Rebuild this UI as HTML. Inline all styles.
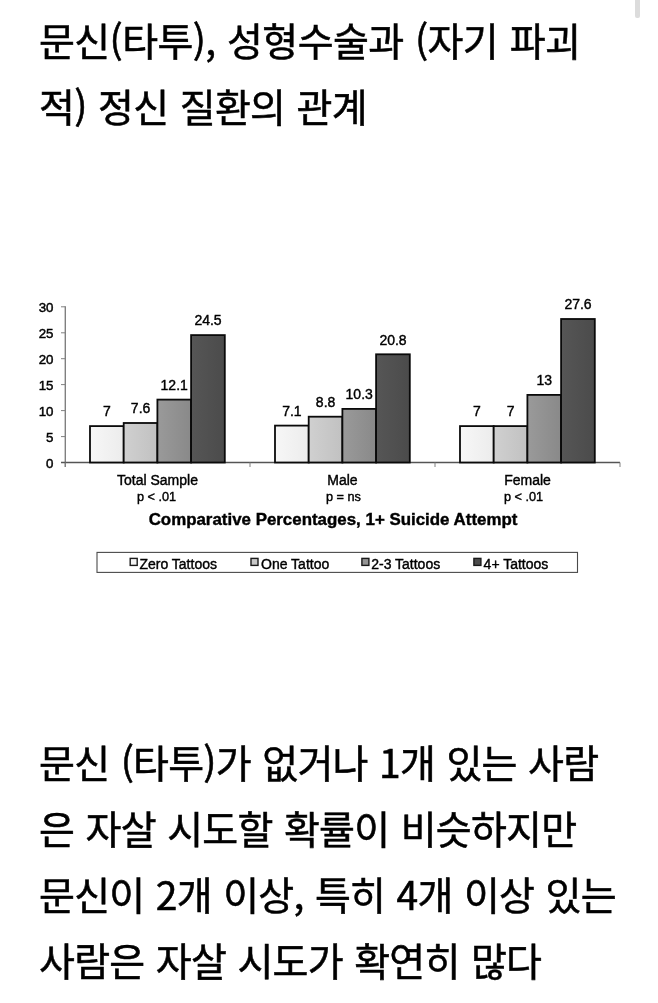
<!DOCTYPE html>
<html lang="ko">
<head>
<meta charset="utf-8">
<title>문신(타투), 성형수술과 (자기 파괴적) 정신 질환의 관계</title>
<style>
html,body{margin:0;padding:0;background:#fff;}
body{width:658px;height:1003px;position:relative;overflow:hidden;
  font-family:"Noto Sans CJK KR","Liberation Sans",sans-serif;color:#000;}
.ln{position:absolute;left:39px;white-space:nowrap;font-size:39px;line-height:50px;height:50px;font-weight:400;-webkit-text-stroke:0.55px #000;letter-spacing:-0.6px;word-spacing:1.2px;}
.sb{position:absolute;left:635px;top:0;width:5px;height:18px;background:#dcdcdc;border-radius:0 0 2px 2px;}
#chart{position:absolute;left:0;top:0;}
.bd{letter-spacing:-0.75px;}
</style>
</head>
<body>
<div class="sb"></div>
<div class="ln" id="t1" style="top:14px">문신(타투), 성형수술과 (자기 파괴</div>
<div class="ln" id="t2" style="top:80px;left:39px;letter-spacing:-0.72px">적) 정신 질환의 관계</div>

<svg id="chart" width="658" height="1003" viewBox="0 0 658 1003" font-family="'Liberation Sans', sans-serif" fill="#000" stroke="#000" stroke-width="0">
<defs>
<linearGradient id="g0" x1="0" y1="0" x2="1" y2="0"><stop offset="0" stop-color="#f7f7f7"/><stop offset="1" stop-color="#ececec"/></linearGradient>
<linearGradient id="g1" x1="0" y1="0" x2="1" y2="0"><stop offset="0" stop-color="#d0d0d0"/><stop offset="1" stop-color="#c1c1c1"/></linearGradient>
<linearGradient id="g2" x1="0" y1="0" x2="1" y2="0"><stop offset="0" stop-color="#9a9a9a"/><stop offset="1" stop-color="#898989"/></linearGradient>
<linearGradient id="g3" x1="0" y1="0" x2="1" y2="0"><stop offset="0" stop-color="#565656"/><stop offset="1" stop-color="#4b4b4b"/></linearGradient>
</defs>
<g stroke="#808080" stroke-width="1.4" fill="none">
<path d="M65.3 306.3V467"/>
<path d="M61 462.5H65.3" stroke-width="1"/>
<path d="M61 436.6H65.3" stroke-width="1"/>
<path d="M61 410.6H65.3" stroke-width="1"/>
<path d="M61 384.6H65.3" stroke-width="1"/>
<path d="M61 358.7H65.3" stroke-width="1"/>
<path d="M61 332.8H65.3" stroke-width="1"/>
<path d="M61 306.8H65.3" stroke-width="1"/>
<path d="M61 462.5H620" stroke="#555"/>
<path d="M65.3 462.5v4.5" stroke-width="1"/>
<path d="M250 462.5v4.5" stroke-width="1"/>
<path d="M435 462.5v4.5" stroke-width="1"/>
<path d="M620 462.5v4.5" stroke-width="1"/>
</g>
<g font-size="13.3" text-anchor="end" stroke-width="0.45">
<text x="53.5" y="467.7">0</text>
<text x="53.5" y="441.7">5</text>
<text x="53.5" y="415.8">10</text>
<text x="53.5" y="389.8">15</text>
<text x="53.5" y="363.9">20</text>
<text x="53.5" y="337.9">25</text>
<text x="53.5" y="312.0">30</text>
</g>
<g stroke="#0a0a0a" stroke-width="1.8">
<rect x="90.0" y="426.1" width="33.7" height="36.4" fill="url(#g0)"/>
<rect x="123.7" y="423.0" width="33.7" height="39.5" fill="url(#g1)"/>
<rect x="157.4" y="399.6" width="33.7" height="62.9" fill="url(#g2)"/>
<rect x="191.1" y="335.1" width="33.7" height="127.4" fill="url(#g3)"/>
<rect x="275.0" y="425.6" width="33.7" height="36.9" fill="url(#g0)"/>
<rect x="308.7" y="416.7" width="33.7" height="45.8" fill="url(#g1)"/>
<rect x="342.4" y="408.9" width="33.7" height="53.6" fill="url(#g2)"/>
<rect x="376.1" y="354.3" width="33.7" height="108.2" fill="url(#g3)"/>
<rect x="460.0" y="426.1" width="33.7" height="36.4" fill="url(#g0)"/>
<rect x="493.7" y="426.1" width="33.7" height="36.4" fill="url(#g1)"/>
<rect x="527.4" y="394.9" width="33.7" height="67.6" fill="url(#g2)"/>
<rect x="561.1" y="319.0" width="33.7" height="143.5" fill="url(#g3)"/>
</g>
<g font-size="14" text-anchor="middle" stroke-width="0.4">
<text x="106.8" y="416.3">7</text>
<text x="140.6" y="413.2">7.6</text>
<text x="174.2" y="389.8">12.1</text>
<text x="208.0" y="325.3">24.5</text>
<text x="291.9" y="415.8">7.1</text>
<text x="325.6" y="406.9">8.8</text>
<text x="359.2" y="399.1">10.3</text>
<text x="393.0" y="344.5">20.8</text>
<text x="476.9" y="416.3">7</text>
<text x="510.6" y="416.3">7</text>
<text x="544.2" y="385.1">13</text>
<text x="578.0" y="309.2">27.6</text>
</g>
<g text-anchor="middle" stroke-width="0.4">
<text x="157.5" y="485.2" font-size="14">Total Sample</text>
<text x="137" y="501" font-size="12.7" text-anchor="start">p &lt; .01</text>
<text x="342.5" y="485.2" font-size="14">Male</text>
<text x="326" y="501" font-size="12.7" text-anchor="start">p = ns</text>
<text x="527.5" y="485.2" font-size="14">Female</text>
<text x="504" y="501" font-size="12.7" text-anchor="start">p &lt; .01</text>
<text x="333" y="525" font-size="16.9" font-weight="bold">Comparative Percentages, 1+ Suicide Attempt</text>
</g>
<rect x="97" y="552.4" width="480.5" height="20" fill="#fff" stroke="#4a4a4a" stroke-width="1.1"/>
<g font-size="14" stroke-width="0.4">
<rect x="130.2" y="558.4" width="7" height="7" fill="#f4f4f4" stroke="#1a1a1a" stroke-width="1.4"/>
<text x="139.4" y="569">Zero Tattoos</text>
<rect x="251" y="558.4" width="7" height="7" fill="#c8c8c8" stroke="#1a1a1a" stroke-width="1.4"/>
<text x="261" y="569">One Tattoo</text>
<rect x="361.9" y="558.4" width="7" height="7" fill="#949494" stroke="#1a1a1a" stroke-width="1.4"/>
<text x="371.2" y="569">2-3 Tattoos</text>
<rect x="473.9" y="558.4" width="7" height="7" fill="#4c4c4c" stroke="#1a1a1a" stroke-width="1.4"/>
<text x="483.6" y="569">4+ Tattoos</text>
</g>
</svg>

<div class="ln bd" id="b1" style="top:736px">문신 (타투)가 없거나 1개 있는 사람</div>
<div class="ln bd" id="b2" style="top:802px">은 자살 시도할 확률이 비슷하지만</div>
<div class="ln bd" id="b3" style="top:868px">문신이 2개 이상, 특히 4개 이상 있는</div>
<div class="ln bd" id="b4" style="top:934px">사람은 자살 시도가 확연히 많다</div>
</body>
</html>
